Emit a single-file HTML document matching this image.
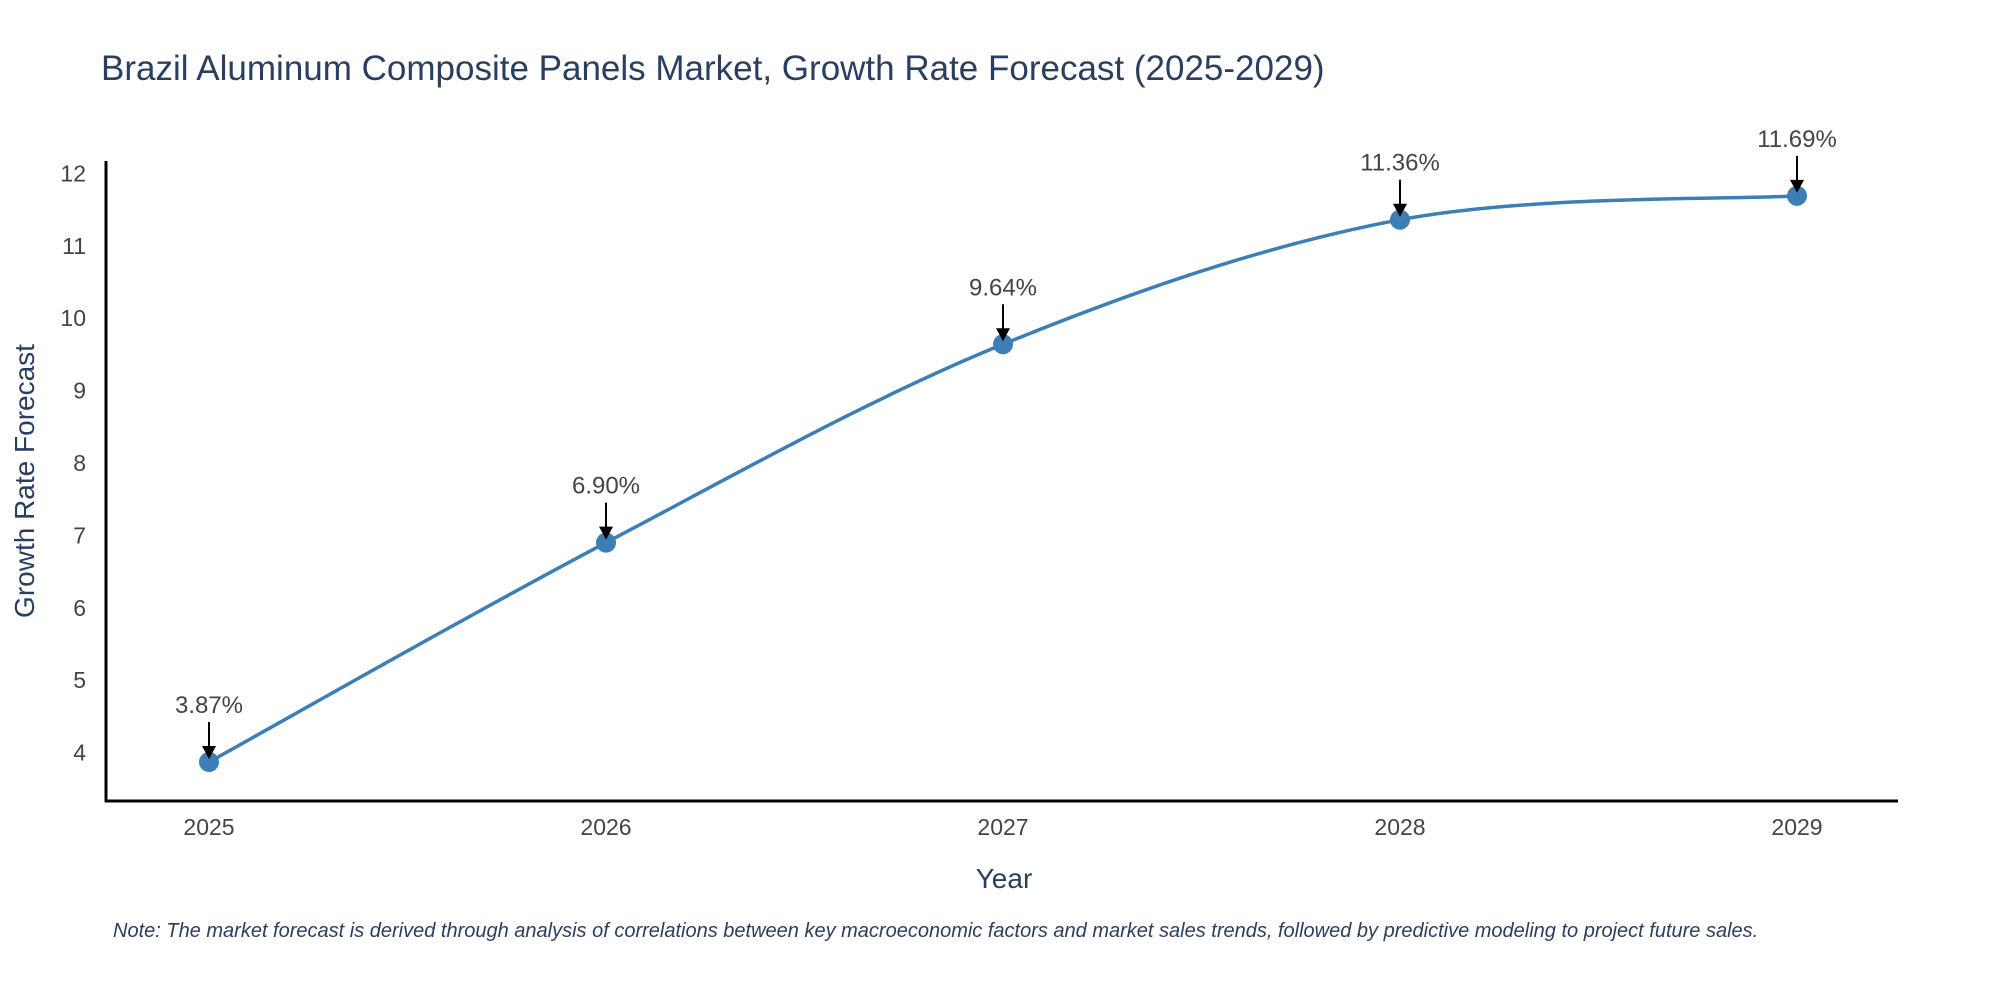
<!DOCTYPE html>
<html><head><meta charset="utf-8"><style>
html,body{margin:0;padding:0;background:#fff;}
svg{display:block;font-family:"Liberation Sans","DejaVu Sans",sans-serif;}
</style></head><body>
<svg id="chart" width="2000" height="1000" viewBox="0 0 2000 1000">
<text x="101" y="80" font-size="35" fill="#2a3f5f">Brazil Aluminum Composite Panels Market, Growth Rate Forecast (2025-2029)</text>
<g id="yticks"></g>
<g id="xticks"></g>
<line x1="106" y1="161" x2="106" y2="802" stroke="#000" stroke-width="3"/>
<line x1="105" y1="801" x2="1898" y2="801" stroke="#000" stroke-width="3"/>
<text transform="translate(34,481) rotate(-90)" text-anchor="middle" font-size="28" fill="#2a3f5f">Growth Rate Forecast</text>
<text x="1004" y="888" text-anchor="middle" font-size="28" fill="#2a3f5f">Year</text>
<path id="line" fill="none" stroke="#3d7fb4" stroke-width="3.5"/>
<g id="points"></g>
<g id="annots"></g>
<text x="113" y="937" font-size="20" font-style="italic" fill="#2a3f5f">Note: The market forecast is derived through analysis of correlations between key macroeconomic factors and market sales trends, followed by predictive modeling to project future sales.</text>
</svg>
<script>
const years = [2025, 2026, 2027, 2028, 2029];
const values = [3.87, 6.90, 9.64, 11.36, 11.69];
const labels = ["3.87%", "6.90%", "9.64%", "11.36%", "11.69%"];
const yTicks = [4, 5, 6, 7, 8, 9, 10, 11, 12];

const NS = "http://www.w3.org/2000/svg";
function xs(yr){ return 209 + (yr - 2025) * 397; }
function ys(v){ return 752.6 - (v - 4) * 72.4; }
function mk(tag, attrs, parent){ const e=document.createElementNS(NS,tag); for(const k in attrs) e.setAttribute(k,attrs[k]); parent.appendChild(e); return e; }

const yg=document.getElementById('yticks');
yTicks.forEach(t=>{
  const e=mk('text',{x:86,y:ys(t)+8,'text-anchor':'end','font-size':23,fill:'#444'},yg);
  
  
  e.textContent=t;
});
const xg=document.getElementById('xticks');
years.forEach(y=>{
  const e=mk('text',{x:xs(y),y:835,'text-anchor':'middle','font-size':23,fill:'#444'},xg);
  
  
  e.textContent=y;
});

const P=years.map((y,i)=>[xs(y),ys(values[i])]);
let d='M'+P[0][0]+','+P[0][1];
for(let i=0;i<P.length-1;i++){
  const p0=P[Math.max(i-1,0)],p1=P[i],p2=P[i+1],p3=P[Math.min(i+2,P.length-1)];
  const c1=[p1[0]+(p2[0]-p0[0])/6,p1[1]+(p2[1]-p0[1])/6];
  const c2=[p2[0]-(p3[0]-p1[0])/6,p2[1]-(p3[1]-p1[1])/6];
  d+=' C'+c1+' '+c2+' '+p2;
}
document.getElementById('line').setAttribute('d',d);

const pg=document.getElementById('points'), ag=document.getElementById('annots');
P.forEach((p,i)=>{
  const c=mk('circle',{cx:p[0],cy:p[1],r:10,fill:'#3d7fb4'},pg);
  
  
  const l=mk('line',{x1:p[0],y1:p[1]-40,x2:p[0],y2:p[1]-14,stroke:'#000','stroke-width':2},ag);
  
  
  const h=mk('polygon',{points:(p[0]-7)+','+(p[1]-16)+' '+(p[0]+7)+','+(p[1]-16)+' '+p[0]+','+(p[1]-3),fill:'#000'},ag);
  
  
  const t=mk('text',{x:p[0],y:p[1]-49,'text-anchor':'middle','font-size':24,fill:'#444'},ag);
  
  
  t.textContent=labels[i];
});
</script>
</body></html>
